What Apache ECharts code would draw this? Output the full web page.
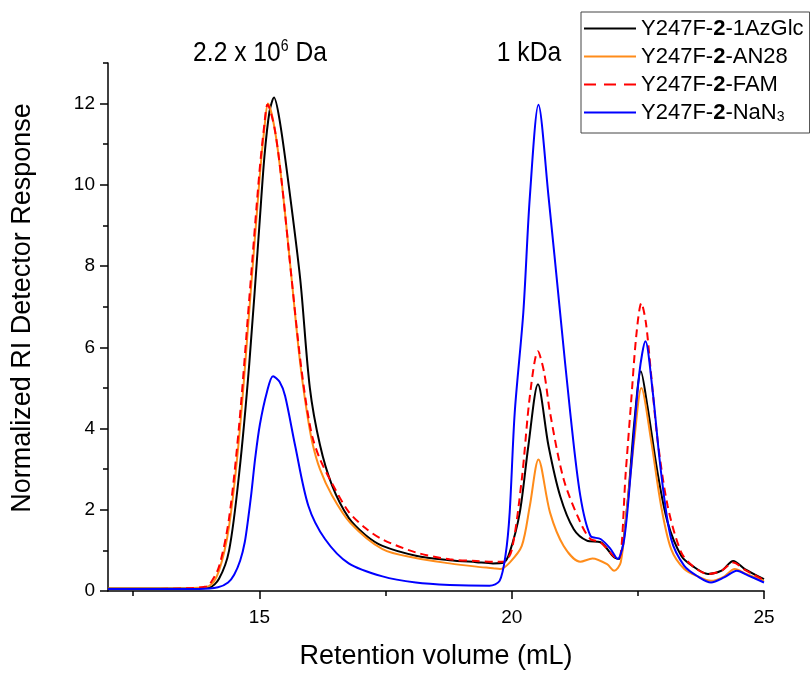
<!DOCTYPE html>
<html>
<head>
<meta charset="utf-8">
<script src="https://cdn.jsdelivr.net/npm/echarts@6/dist/echarts.min.js"></script>
<style>
  html, body { margin: 0; padding: 0; background: #fff; }
  #main { width: 810px; height: 675px; }
</style>
</head>
<body>
<div id="main"></div>
<script>
// retention volume (mL) / normalized RI response
var volAzGlc = [12.0, 13.0, 13.6, 14.0, 14.2, 14.4, 14.6, 14.8, 15.0, 15.1, 15.2, 15.29, 15.4, 15.57, 15.81, 16.0, 16.2, 16.44, 16.77, 17.1, 17.44, 18.1, 18.77, 19.3, 19.63, 19.84, 19.96, 20.16, 20.33, 20.52, 20.73, 20.96, 21.23, 21.49, 21.76, 22.03, 22.13, 22.29, 22.43, 22.56, 22.69, 22.89, 23.09, 23.36, 23.6, 23.89, 24.16, 24.39, 24.62, 25.0];
var riAzGlc  = [0.06, 0.06, 0.06, 0.08, 0.3, 1.0, 2.9, 5.6, 9.0, 10.7, 11.8, 12.15, 11.6, 10.1, 7.67, 5.0, 3.6, 2.6, 1.8, 1.38, 1.11, 0.87, 0.76, 0.71, 0.68, 0.7, 0.95, 1.93, 3.57, 5.09, 3.57, 2.34, 1.52, 1.24, 1.2, 0.83, 0.79, 2.1, 4.15, 5.41, 4.55, 2.92, 1.69, 0.87, 0.6, 0.42, 0.5, 0.74, 0.54, 0.29];

var volAN28 = [12.0, 13.0, 13.6, 14.0, 14.2, 14.4, 14.6, 14.8, 15.0, 15.1, 15.17, 15.3, 15.44, 15.64, 15.8, 15.93, 16.05, 16.2, 16.44, 16.8, 17.44, 18.1, 18.77, 19.3, 19.63, 19.77, 19.96, 20.2, 20.36, 20.53, 20.76, 21.03, 21.36, 21.6, 21.89, 22.03, 22.16, 22.29, 22.43, 22.57, 22.76, 22.96, 23.16, 23.42, 23.7, 23.95, 24.2, 24.42, 24.65, 25.0];
var riAN28  = [0.06, 0.06, 0.07, 0.12, 0.5, 1.6, 3.8, 6.9, 10.1, 11.4, 12.0, 11.4, 10.1, 7.67, 5.7, 4.5, 3.65, 3.0, 2.35, 1.68, 1.03, 0.81, 0.68, 0.6, 0.56, 0.54, 0.7, 1.11, 2.1, 3.24, 1.93, 1.11, 0.72, 0.8, 0.66, 0.5, 0.7, 2.1, 3.73, 5.0, 3.73, 2.1, 1.03, 0.54, 0.35, 0.25, 0.35, 0.54, 0.42, 0.25];

var volFAM = [12.0, 13.0, 13.6, 13.9, 14.0, 14.2, 14.4, 14.6, 14.8, 15.0, 15.1, 15.16, 15.3, 15.44, 15.64, 15.8, 15.93, 16.05, 16.2, 16.44, 16.77, 17.1, 17.44, 18.1, 18.77, 19.3, 19.63, 19.84, 20.0, 20.2, 20.36, 20.52, 20.64, 20.76, 21.03, 21.36, 21.56, 21.76, 22.03, 22.13, 22.26, 22.36, 22.47, 22.57, 22.66, 22.76, 22.89, 23.09, 23.36, 23.6, 23.89, 24.16, 24.39, 24.62, 25.0];
var riFAM  = [0.05, 0.05, 0.07, 0.1, 0.14, 0.6, 1.8, 4.1, 7.2, 10.3, 11.5, 11.98, 11.4, 10.1, 7.67, 5.8, 4.6, 3.8, 3.25, 2.65, 1.95, 1.55, 1.27, 0.95, 0.78, 0.74, 0.72, 0.72, 1.0, 2.75, 4.8, 5.9, 5.4, 4.39, 2.75, 1.69, 1.28, 1.2, 0.85, 0.8, 2.92, 4.55, 6.3, 7.09, 6.6, 5.37, 3.73, 2.1, 0.95, 0.6, 0.42, 0.5, 0.7, 0.52, 0.27];

var volNaN3 = [12.0, 13.0, 13.8, 14.18, 14.38, 14.5, 14.62, 14.71, 14.78, 14.84, 14.92, 15.01, 15.15, 15.27, 15.4, 15.51, 15.71, 15.97, 16.3, 16.77, 17.44, 18.1, 18.77, 19.56, 19.76, 19.88, 19.96, 20.06, 20.23, 20.36, 20.53, 20.73, 20.96, 21.16, 21.36, 21.56, 21.76, 21.95, 22.1, 22.23, 22.36, 22.53, 22.65, 22.79, 22.96, 23.16, 23.42, 23.7, 23.95, 24.22, 24.46, 24.69, 25.0];
var riNaN3  = [0.05, 0.05, 0.05, 0.09, 0.21, 0.4, 0.75, 1.2, 1.8, 2.4, 3.3, 4.1, 4.9, 5.29, 5.15, 4.8, 3.57, 2.1, 1.28, 0.68, 0.36, 0.21, 0.15, 0.13, 0.25, 0.9, 1.93, 4.39, 6.85, 9.71, 11.97, 9.71, 6.85, 4.39, 2.34, 1.36, 1.28, 1.05, 0.79, 1.28, 2.92, 5.37, 6.15, 4.96, 2.92, 1.28, 0.62, 0.35, 0.21, 0.34, 0.5, 0.38, 0.21];

var seriesNames = ['Y247F-2-1AzGlc', 'Y247F-2-AN28', 'Y247F-2-FAM', 'Y247F-2-NaN3'];
var xMajor = [15, 20, 25];
var xMinor = [12.5, 17.5, 22.5];
var yMajor = [0, 2, 4, 6, 8, 10, 12];
var yMinor = [1, 3, 5, 7, 9, 11, 13];

function zip(xs, ys) {
    return xs.map(function (x, i) { return [x, ys[i]]; });
}

var font = 'Arial, "Liberation Sans", sans-serif';
var myChart = echarts.init(document.getElementById('main'));

var lineSeries = function (name, data, color, type) {
    return {
        name: name,
        type: 'line',
        data: data,
        xAxisIndex: 0,
        yAxisIndex: 0,
        symbol: 'none',
        showSymbol: false,
        smooth: 0.3,
        lineStyle: { color: color, width: 2, type: type || 'solid' },
        itemStyle: { color: color },
        animation: false
    };
};

// legend swatches: plain bar for solid lines, three bars for the dashed one
var solidIcon = 'path://M0,0h52v2h-52z';
var dashIcon = 'path://M0,0h12v2h-12z M20,0h12v2h-12z M40,0h12v2h-12z';

var legendLabels = {
    'Y247F-2-1AzGlc': '{n|Y247F-}{b|2}{n|-1AzGlc}',
    'Y247F-2-AN28': '{n|Y247F-}{b|2}{n|-AN28}',
    'Y247F-2-FAM': '{n|Y247F-}{b|2}{n|-FAM}',
    'Y247F-2-NaN3': '{n|Y247F-}{b|2}{n|-NaN}{s|3}'
};

myChart.setOption({
    backgroundColor: '#fff',
    animation: false,
    grid: { left: 108, right: 46, top: 63, bottom: 83 },
    legend: {
        data: [
            { name: seriesNames[0], icon: solidIcon },
            { name: seriesNames[1], icon: solidIcon },
            { name: seriesNames[2], icon: dashIcon },
            { name: seriesNames[3], icon: solidIcon }
        ],
        orient: 'vertical',
        left: 581,
        top: 12,
        padding: [5, 6, 9, 3],
        itemGap: 5,
        itemWidth: 52,
        itemHeight: 2,
        borderColor: '#444',
        borderWidth: 1,
        formatter: function (name) { return legendLabels[name]; },
        textStyle: {
            fontFamily: font,
            fontSize: 22,
            lineHeight: 23,
            color: '#000',
            rich: {
                n: { fontFamily: font, fontSize: 22, color: '#000' },
                b: { fontFamily: font, fontSize: 22, fontWeight: 'bold', color: '#000' },
                s: { fontFamily: font, fontSize: 14, color: '#000', verticalAlign: 'bottom', padding: [9, 0, 0, 0] }
            }
        }
    },
    xAxis: [{
        type: 'value',
        min: 12,
        max: 25,
        position: 'bottom',
        name: 'Retention volume (mL)',
        nameLocation: 'middle',
        nameGap: 52,
        nameTextStyle: { fontFamily: font, fontSize: 27, color: '#000' },
        axisLine: { show: true, lineStyle: { color: '#000', width: 1.5 } },
        axisTick: { show: true, inside: false, length: 8, customValues: xMajor, lineStyle: { color: '#000', width: 1.5 } },
        axisLabel: { customValues: xMajor, fontFamily: font, fontSize: 19, color: '#000', margin: 17 },
        splitLine: { show: false }
    }, {
        type: 'value',
        min: 12,
        max: 25,
        position: 'bottom',
        axisLine: { show: false },
        axisTick: { show: true, inside: false, length: 5, customValues: xMinor, lineStyle: { color: '#000', width: 1.5 } },
        axisLabel: { show: false },
        splitLine: { show: false }
    }],
    yAxis: [{
        type: 'value',
        min: 0,
        max: 13,
        position: 'left',
        name: 'Normalized RI Detector Response',
        nameLocation: 'middle',
        nameGap: 72,
        nameTextStyle: { fontFamily: font, fontSize: 27, color: '#000', padding: [0, 0, 0, 38] },
        axisLine: { show: true, lineStyle: { color: '#000', width: 1.5 } },
        axisTick: { show: true, inside: false, length: 8, customValues: yMajor, lineStyle: { color: '#000', width: 1.5 } },
        axisLabel: { customValues: yMajor, fontFamily: font, fontSize: 19, color: '#000', margin: 13 },
        splitLine: { show: false }
    }, {
        type: 'value',
        min: 0,
        max: 13,
        position: 'left',
        axisLine: { show: false },
        axisTick: { show: true, inside: false, length: 5, customValues: yMinor, lineStyle: { color: '#000', width: 1.5 } },
        axisLabel: { show: false },
        splitLine: { show: false }
    }],
    graphic: [{
        type: 'text',
        x: 260,
        y: 53,
        scaleX: 0.88,
        style: {
            text: '{a|2.2 x 10}{p|6}{a| Da}',
            textAlign: 'center',
            textVerticalAlign: 'middle',
            rich: {
                a: { fontFamily: font, fontSize: 28, fill: '#000' },
                p: { fontFamily: font, fontSize: 16, fill: '#000', verticalAlign: 'top', padding: [0, 0, 10, 0] }
            }
        }
    }, {
        type: 'text',
        x: 529,
        y: 53,
        scaleX: 0.88,
        style: {
            text: '1 kDa',
            font: '28px ' + font,
            fill: '#000',
            textAlign: 'center',
            textVerticalAlign: 'middle'
        }
    }],
    series: [
        lineSeries(seriesNames[0], zip(volAzGlc, riAzGlc), '#000000'),
        lineSeries(seriesNames[1], zip(volAN28, riAN28), '#ff8c1a'),
        lineSeries(seriesNames[2], zip(volFAM, riFAM), '#ff0000', [8, 5]),
        lineSeries(seriesNames[3], zip(volNaN3, riNaN3), '#0000ff')
    ]
});

window.addEventListener('resize', function () {
    myChart.resize();
});
</script>
</body>
</html>
